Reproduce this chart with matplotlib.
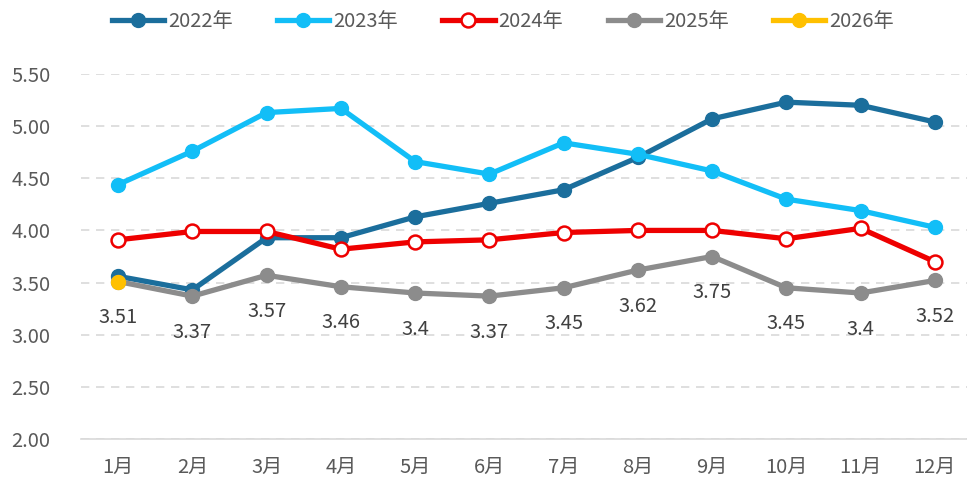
import matplotlib.pyplot as plt

plt.rcParams['font.family'] = ['Noto Sans CJK SC', 'DejaVu Sans']

months = ["1月", "2月", "3月", "4月", "5月", "6月", "7月", "8月", "9月", "10月", "11月", "12月"]
y2022 = [3.56, 3.43, 3.93, 3.93, 4.13, 4.26, 4.39, 4.70, 5.07, 5.23, 5.20, 5.04]
y2023 = [4.44, 4.76, 5.13, 5.17, 4.66, 4.54, 4.84, 4.73, 4.57, 4.30, 4.19, 4.03]
y2024 = [3.91, 3.99, 3.99, 3.82, 3.89, 3.91, 3.98, 4.00, 4.00, 3.92, 4.02, 3.70]
y2025 = [3.51, 3.37, 3.57, 3.46, 3.40, 3.37, 3.45, 3.62, 3.75, 3.45, 3.40, 3.52]
y2026 = [3.51]
labels2025 = ["3.51", "3.37", "3.57", "3.46", "3.4", "3.37", "3.45", "3.62", "3.75", "3.45", "3.4", "3.52"]

fig = plt.figure(figsize=(9.67, 4.82), dpi=100)
ax = fig.add_axes([81 / 967, 43 / 482, 891 / 967, 365 / 482])

x = list(range(len(months)))
lw = 3.8
ms = 10
ax.plot(x, y2022, color="#1B6E9C", lw=lw, marker="o", ms=ms, label="2022年", zorder=3)
ax.plot(x, y2023, color="#12BEF7", lw=lw, marker="o", ms=ms, label="2023年", zorder=3)
ax.plot(x, y2024, color="#EE0000", lw=lw, marker="o", ms=ms, mfc="white",
        mec="#EE0000", mew=1.8, label="2024年", zorder=4)
ax.plot(x, y2025, color="#8C8C8C", lw=lw, marker="o", ms=ms, label="2025年", zorder=3)
ax.plot(x[:len(y2026)], y2026, color="#FFC000", lw=lw, marker="o", ms=ms, label="2026年", zorder=5)

for xi, yi, t in zip(x, y2025, labels2025):
    ax.annotate(t, (xi, yi), xytext=(0, -26), textcoords="offset points",
                ha="center", va="center", fontsize=14.5, color="#404040")

ax.set_xlim(-0.5, 11.5)
ax.set_ylim(2.0, 5.5)
ax.set_xticks(x)
ax.set_xticklabels(months)
ax.set_yticks([2.0, 2.5, 3.0, 3.5, 4.0, 4.5, 5.0, 5.5])
ax.set_yticklabels([f"{v:.2f}" for v in ax.get_yticks()])
ax.tick_params(axis="both", length=0, labelsize=14.5, colors="#595959")
ax.tick_params(axis="x", pad=13)
ax.tick_params(axis="y", pad=22)

ax.yaxis.grid(True, color="#D9D9D9", linestyle=(0, (5, 4)), lw=1.2)
ax.set_axisbelow(True)
for s in ["top", "right", "left"]:
    ax.spines[s].set_visible(False)
ax.spines["bottom"].set_color("#D9D9D9")
ax.spines["bottom"].set_linewidth(1.2)

fig.legend(loc="upper center", bbox_to_anchor=(0.52, 1.015), ncol=5, frameon=False,
           fontsize=14.5, labelcolor="#595959", handlelength=2.6, columnspacing=2.2,
           handletextpad=0.2)

fig.savefig("out.png", dpi=100)
